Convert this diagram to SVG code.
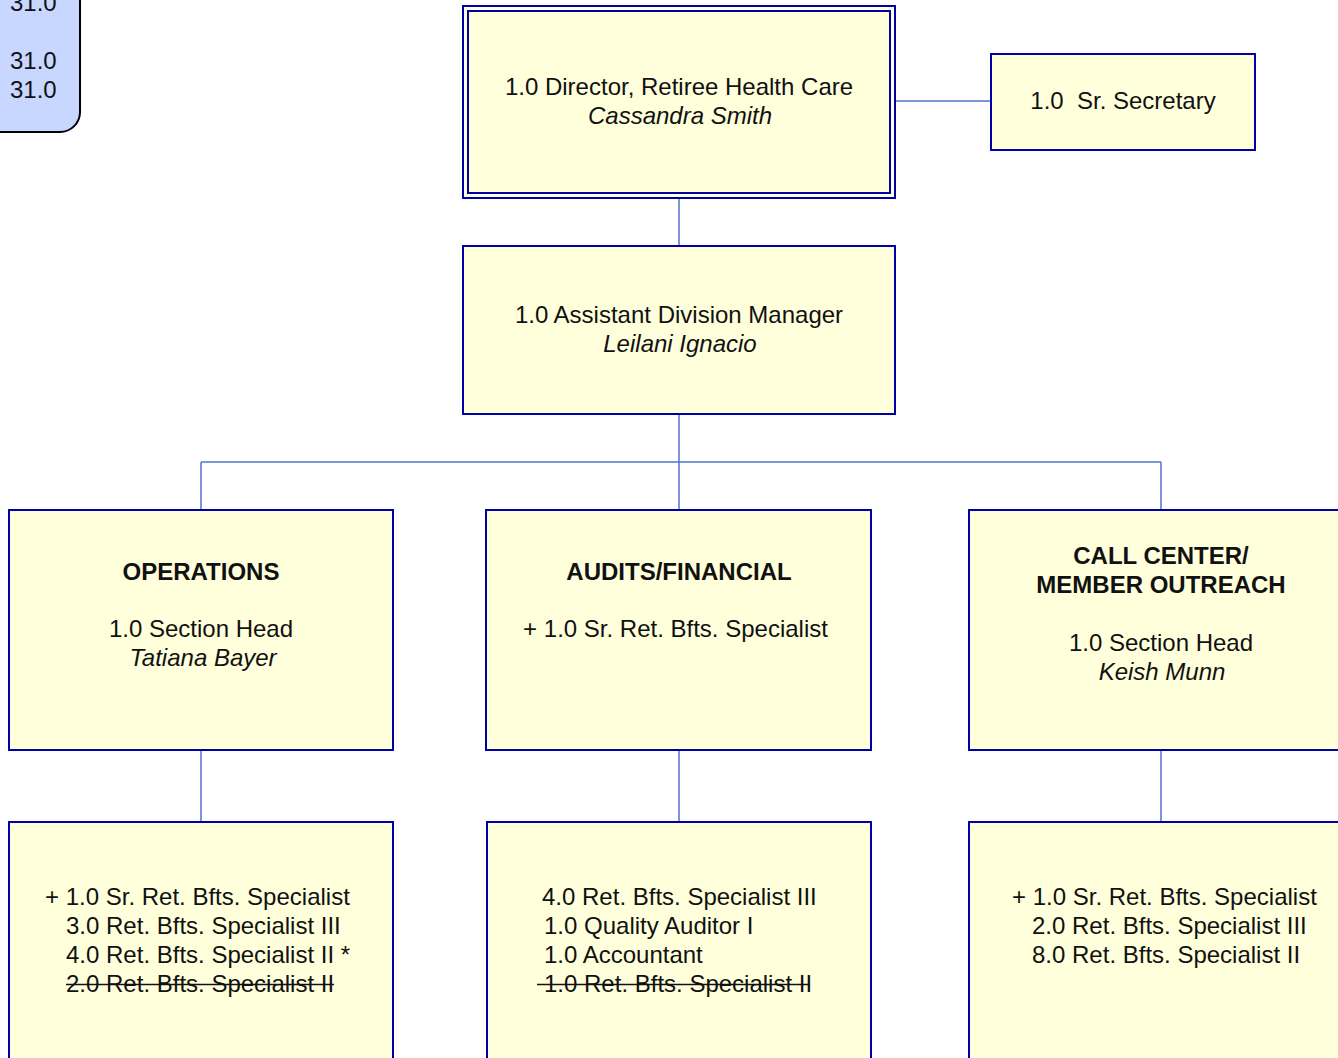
<svg xmlns="http://www.w3.org/2000/svg" width="1338" height="1058" viewBox="0 0 1338 1058">
  <style>
    text { font-family: "Liberation Sans", Arial, sans-serif; font-size: 24px; fill: #111; }
    .c { text-anchor: middle; }
    .b { font-weight: bold; }
    .i { font-style: italic; }
    .box { fill: #FFFFDB; stroke: #0000A8; stroke-width: 2; }
    .link { stroke: #4F74CC; stroke-width: 1.5; fill: none; }
    .strike { stroke: #111; stroke-width: 1.5; }
  </style>

  <!-- FTE summary tab (top-left) -->
  <g id="fte-summary">
    <path d="M -10 -10 H 80 V 112 A 20 20 0 0 1 60 132 H -10 Z" fill="#C8D7FF" stroke="#000" stroke-width="2"/>
    <text x="10" y="10.5">31.0</text>
    <text x="10" y="68.5">31.0</text>
    <text x="10" y="97.5">31.0</text>
  </g>

  <!-- reporting lines -->
  <g id="connectors">
    <line class="link" x1="895" y1="101" x2="991" y2="101"/>
    <line class="link" x1="679" y1="198" x2="679" y2="246"/>
    <line class="link" x1="679" y1="414" x2="679" y2="510" stroke-width="2"/>
    <line class="link" x1="201" y1="462" x2="1161" y2="462"/>
    <line class="link" x1="201" y1="462" x2="201" y2="510"/>
    <line class="link" x1="1161" y1="462" x2="1161" y2="510"/>
    <line class="link" x1="201" y1="750" x2="201" y2="822"/>
    <line class="link" x1="679" y1="750" x2="679" y2="822"/>
    <line class="link" x1="1161" y1="750" x2="1161" y2="822"/>
  </g>

  <g id="director">
    <rect class="box" x="463" y="6" width="432" height="192"/>
    <rect x="468" y="11" width="422" height="182" fill="none" stroke="#0000A8" stroke-width="2"/>
    <text class="c" x="679" y="95">1.0 Director, Retiree Health Care</text>
    <text class="c i" x="680" y="124">Cassandra Smith</text>
  </g>

  <g id="secretary">
    <rect class="box" x="991" y="54" width="264" height="96"/>
    <text class="c" x="1123" y="109" xml:space="preserve">1.0  Sr. Secretary</text>
  </g>

  <g id="asst-manager">
    <rect class="box" x="463" y="246" width="432" height="168"/>
    <text class="c" x="679" y="323">1.0 Assistant Division Manager</text>
    <text class="c i" x="680" y="352">Leilani Ignacio</text>
  </g>

  <g id="operations">
    <rect class="box" x="9" y="510" width="384" height="240"/>
    <text class="c b" x="201" y="580">OPERATIONS</text>
    <text class="c" x="201" y="637">1.0 Section Head</text>
    <text class="c i" x="203" y="666">Tatiana Bayer</text>
  </g>

  <g id="audits">
    <rect class="box" x="486" y="510" width="385" height="240"/>
    <text class="c b" x="679" y="580">AUDITS/FINANCIAL</text>
    <text class="c" x="675.5" y="637">+ 1.0 Sr. Ret. Bfts. Specialist</text>
  </g>

  <g id="call-center">
    <rect class="box" x="969" y="510" width="380" height="240"/>
    <text class="c b" x="1161" y="564">CALL CENTER/</text>
    <text class="c b" x="1161" y="593">MEMBER OUTREACH</text>
    <text class="c" x="1161" y="651">1.0 Section Head</text>
    <text class="c i" x="1162" y="680">Keish Munn</text>
  </g>

  <g id="operations-staff">
    <rect class="box" x="9" y="822" width="384" height="250"/>
    <text x="45" y="905">+ 1.0 Sr. Ret. Bfts. Specialist</text>
    <text x="66" y="934">3.0 Ret. Bfts. Specialist III</text>
    <text x="66" y="963">4.0 Ret. Bfts. Specialist II *</text>
    <text x="66" y="992">2.0 Ret. Bfts. Specialist II</text>
    <line class="strike" x1="66" y1="984.5" x2="334" y2="984.5"/>
  </g>

  <g id="audits-staff">
    <rect class="box" x="487" y="822" width="384" height="250"/>
    <text x="542" y="905">4.0 Ret. Bfts. Specialist III</text>
    <text x="544" y="934">1.0 Quality Auditor I</text>
    <text x="544" y="963">1.0 Accountant</text>
    <text x="544" y="992">1.0 Ret. Bfts. Specialist II</text>
    <line class="strike" x1="537" y1="984.5" x2="810" y2="984.5"/>
  </g>

  <g id="call-center-staff">
    <rect class="box" x="969" y="822" width="380" height="250"/>
    <text x="1012" y="905">+ 1.0 Sr. Ret. Bfts. Specialist</text>
    <text x="1032" y="934">2.0 Ret. Bfts. Specialist III</text>
    <text x="1032" y="963">8.0 Ret. Bfts. Specialist II</text>
  </g>
</svg>
